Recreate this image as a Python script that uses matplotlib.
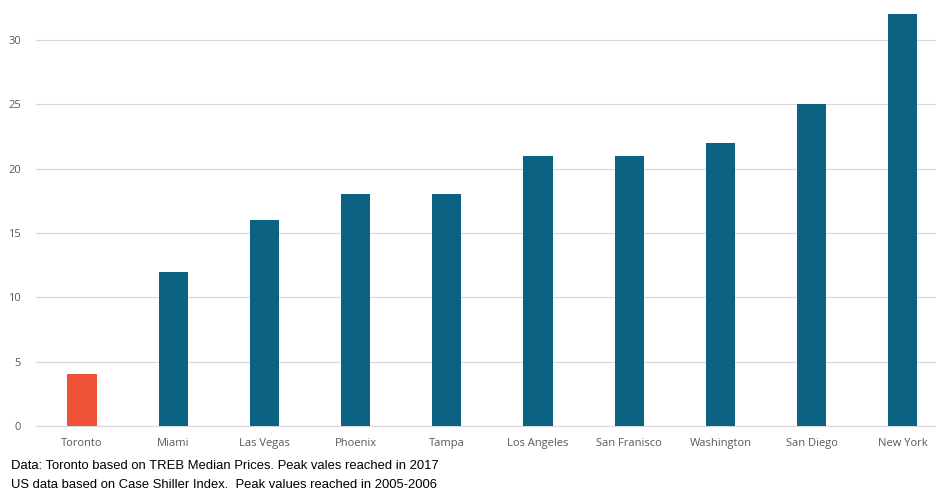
import numpy as np
import matplotlib
matplotlib.use('Agg')
import matplotlib.pyplot as plt

plt.rcParams['font.family'] = ['Open Sans', 'DejaVu Sans']

# ── 数据 ──────────────────────────────────────────────
cities = ['Toronto', 'Miami', 'Las Vegas', 'Phoenix', 'Tampa',
          'Los Angeles', 'San Franisco', 'Washington', 'San Diego', 'New York']
values = [4, 12, 16, 18, 18, 21, 21, 22, 25, 32]
bar_colors = ['#EE5137'] + ['#0B6283'] * 9
notes = ['Data: Toronto based on TREB Median Prices. Peak vales reached in 2017',
         'US data based on Case Shiller Index.  Peak values reached in 2005-2006']

fig = plt.figure(figsize=(9.37, 4.94), dpi=100)
# 右侧被裁切，轴区域超出画布
ax = fig.add_axes([0.0389, 0.1377, 0.9733, 0.8597])

x = np.arange(len(cities))
ax.bar(x, values, width=0.32, color=bar_colors, zorder=3)

ax.set_xlim(-0.5, len(cities) - 0.5)
ax.set_ylim(0, 33)
ax.set_yticks(range(0, 31, 5))
ax.set_xticks(x)
ax.set_xticklabels(cities)
ax.tick_params(axis='both', length=0, labelsize=8, colors='#595959')
ax.tick_params(axis='x', pad=8.5)
ax.tick_params(axis='y', pad=11)
ax.grid(axis='y', color='#D9D9D9', linewidth=0.9, zorder=0)
for s in ['top', 'right', 'left']:
    ax.spines[s].set_visible(False)
ax.spines['bottom'].set_color('#D9D9D9')

fig.text(0.012, 1 - 466 / 494, notes[0], fontsize=9.4, va='center',
         family=['Liberation Sans', 'DejaVu Sans'])
fig.text(0.012, 1 - 485 / 494, notes[1], fontsize=9.4, va='center',
         family=['Liberation Sans', 'DejaVu Sans'])

fig.savefig('out.png', dpi=100)
